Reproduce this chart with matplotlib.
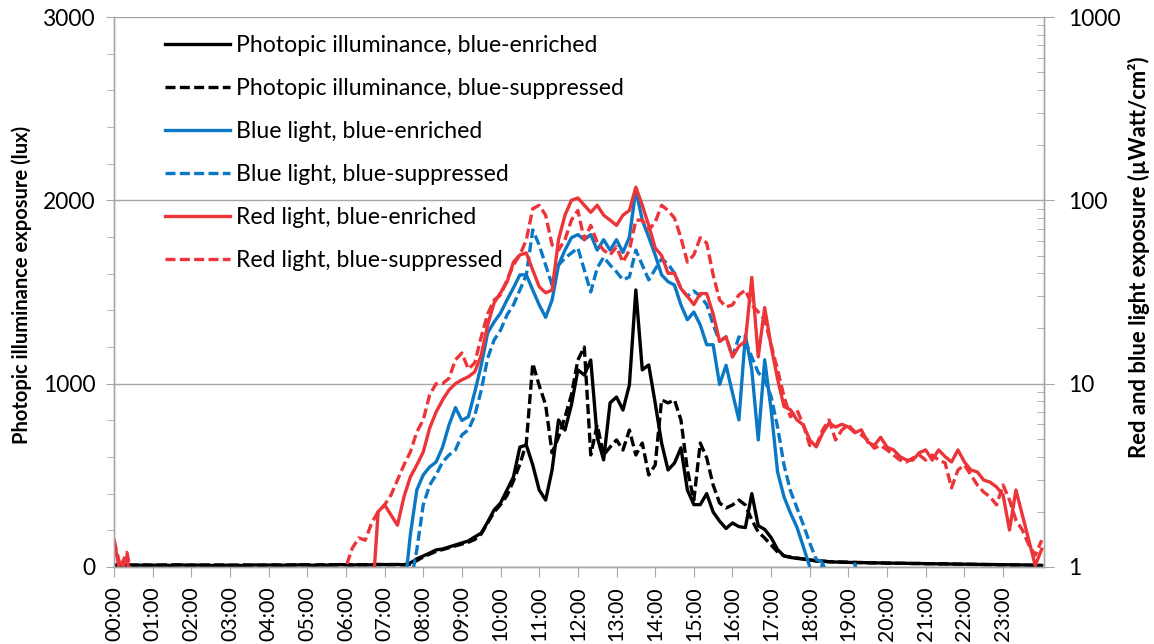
import matplotlib
matplotlib.use("Agg")
import matplotlib.pyplot as plt
import numpy as np
from matplotlib.ticker import MultipleLocator, FixedLocator, FuncFormatter, LogLocator, NullFormatter

plt.rcParams['font.family'] = ['Lato', 'DejaVu Sans']

# time of day in hours, 10-minute steps (0:00 ... 24:00)
hours = np.arange(145) / 6.0
hour_labels = ['%02d:00' % h for h in range(24)]

# photopic illuminance (lux), left axis
photopic_enriched = [
    12, 10, 9, 11, 10, 8,
    9, 11, 10, 8, 12, 10,
    9, 10, 11, 8, 10, 9,
    10, 9, 8, 10, 11, 9,
    10, 12, 9, 11, 10, 12,
    11, 9, 12, 10, 11, 13,
    12, 10, 13, 11, 12, 14,
    13, 12, 14, 11, 22, 44,
    60, 76, 93, 98, 109, 120,
    131, 142, 164, 185, 245, 311,
    349, 420, 491, 654, 665, 556,
    420, 365, 529, 802, 747, 884,
    1075, 1047, 1129, 709, 584, 895,
    927, 856, 993, 1511, 1075, 1102,
    895, 676, 529, 567, 650, 420,
    340, 340, 400, 300, 250, 210,
    240, 220, 215, 400, 225, 205,
    160, 95, 60, 52, 47, 43,
    38, 33, 33, 28, 27, 26,
    25, 24, 24, 23, 22, 22,
    21, 21, 20, 20, 19, 19,
    18, 18, 17, 17, 16, 16,
    15, 15, 14, 14, 13, 13,
    12, 12, 11, 11, 10, 9,
    8]

photopic_suppressed = [
    8, 10, 11, 9, 10, 12,
    10, 9, 11, 12, 10, 9,
    11, 10, 9, 12, 10, 11,
    9, 10, 12, 10, 9, 11,
    10, 9, 11, 10, 12, 11,
    12, 10, 11, 13, 12, 11,
    13, 12, 11, 13, 12, 13,
    12, 14, 12, 13, 15, 35,
    55, 70, 85, 95, 105, 115,
    125, 135, 150, 180, 240, 300,
    340, 390, 470, 560, 676, 1110,
    990, 884, 622, 709, 818, 938,
    1129, 1200, 611, 775, 611, 654,
    693, 638, 747, 611, 676, 502,
    556, 911, 895, 911, 802, 529,
    365, 676, 595, 447, 349, 322,
    338, 365, 338, 256, 191, 158,
    120, 82, 60, 55, 49, 44,
    38, 34, 31, 29, 28, 27,
    26, 25, 24, 23, 23, 22,
    21, 21, 20, 20, 19, 19,
    18, 18, 17, 17, 16, 15,
    15, 14, 14, 13, 13, 12,
    12, 11, 11, 10, 10, 9,
    8]

# blue light (uW/cm2), right log axis
blue_enriched = [0.6] * 42 + [
    0.6, 0.6, 0.6, 0.7, 1.5, 2.63,
    3.18, 3.51, 3.74, 4.5, 5.95, 7.4,
    6.3, 6.6, 9.0, 12.6, 18.9, 21.7,
    24.3, 28.6, 33.3, 39.2, 39.2, 32.4,
    26.9, 23, 28.6, 44.4, 53.5, 62.5,
    65, 61, 65, 53.5, 61, 53.5,
    61, 52, 63, 114, 78, 63,
    50.4, 39.2, 36, 34.5, 26.9, 22.3,
    24.6, 20.9, 16.3, 16.3, 9.9, 12.6,
    8.9, 6.34, 18.4, 11.9, 4.93, 13.5,
    7.2, 3.3, 2.41, 1.97, 1.65, 1.29,
    1.0, 0.8, 1.05, 0.8, 0.6, 0.6] + [0.6] * 31

blue_suppressed = [0.6] * 42 + [
    0.6, 0.6, 0.6, 0.6, 0.8, 1.24,
    2.18, 2.8, 3.18, 3.74, 4.08, 4.35,
    5.25, 5.6, 6.7, 9.2, 13.8, 17.3,
    19.6, 23.7, 26.9, 32.4, 39.2, 69,
    57, 44.4, 34.5, 44.4, 48.4, 51.6,
    55, 41.6, 31.6, 42.7, 49, 44.4,
    40.7, 36.8, 38.2, 53.5, 44.4, 36.8,
    42, 48, 45, 40, 33, 30,
    32, 30, 27, 21, 17, 18,
    14, 18, 17, 14, 11.5, 10.5,
    8.5, 5.8, 3.6, 2.6, 2.1, 1.7,
    1.35, 1.1, 1.06, 0.8, 0.7, 0.7,
    0.8, 1.04, 0.7, 0.6, 0.6, 0.6] + [0.6] * 25

# red light (uW/cm2), right log axis
red_enriched = [1.4, 0.9, 1.15, 0.6, 0.6, 0.6] + [0.6] * 30 + [
    0.6, 0.6, 0.6, 0.6, 0.6, 2.0,
    2.18, 1.92, 1.69, 2.41, 3.10, 3.60,
    4.24, 5.73, 7.0, 8.15, 9.24, 10.0,
    10.5, 10.9, 11.6, 14.3, 20.9, 27.6,
    31.3, 35.8, 46, 50.4, 51.6, 41.6,
    33.8, 31.3, 32.4, 61, 83, 100,
    103, 94, 86, 94, 83, 78,
    73, 83, 88, 118, 94, 73,
    55, 50, 40, 40, 33, 30,
    27, 31, 31, 24, 17, 18,
    14, 16, 17, 38, 14, 26,
    16, 10.6, 7.5, 7.2, 6.34, 5.95,
    4.93, 4.52, 5.38, 6.1, 5.8, 6.0,
    5.8, 5.4, 5.6, 4.8, 4.6, 5.1,
    4.5, 4.35, 4.0, 3.83, 3.83, 4.2,
    4.35, 3.83, 4.35, 4.0, 3.74, 4.35,
    3.74, 3.38, 3.3, 2.98, 2.9, 2.73,
    2.47, 1.59, 2.63, 1.92, 1.40, 1.02,
    1.25]

red_suppressed = [1.4, 1.0, 1.2, 0.8, 0.6, 0.6] + [0.6] * 30 + [
    1.0, 1.27, 1.44, 1.40, 1.74, 2.0,
    2.18, 2.47, 2.98, 3.6, 4.24, 5.45,
    6.34, 8.7, 10.0, 10.0, 10.7, 13.5,
    14.7, 12.0, 13.0, 18, 24, 28.6,
    30.5, 36.8, 44.4, 50.4, 60.8, 90,
    94, 83, 57, 53.5, 61, 78,
    88, 61, 73, 59, 53.5, 50.4,
    55.8, 46, 53.5, 78, 78, 69,
    76, 94, 88, 80, 62.5, 46,
    50.4, 62.5, 58.5, 39.2, 28.6, 26.2,
    26.9, 30.5, 32.4, 26.9, 24.6, 22.3,
    16.3, 11.9, 8.5, 6.6, 7.2, 5.95,
    4.6, 4.6, 5.6, 6.34, 4.93, 5.6,
    5.95, 5.45, 5.25, 4.93, 4.45, 4.6,
    4.35, 4.08, 3.83, 3.74, 3.93, 4.08,
    3.83, 4.08, 3.83, 3.7, 2.7, 3.38,
    3.6, 3.18, 2.8, 2.56, 2.41, 2.18,
    2.8, 2.32, 1.8, 1.59, 1.32, 1.16,
    1.4]

labels = ['Photopic illuminance, blue-enriched',
          'Photopic illuminance, blue-suppressed',
          'Blue light, blue-enriched',
          'Blue light, blue-suppressed',
          'Red light, blue-enriched',
          'Red light, blue-suppressed']

BLACK = '#000000'
BLUE = '#0B78C6'
RED = '#EC3439'
GRAY = '#A6A6A6'
LW = 2.4
DASH = (3, 1.3)

fig = plt.figure(figsize=(11.54, 6.44), dpi=100)
ax = fig.add_axes([0.0988, 0.1196, 0.8059, 0.854])
ax2 = ax.twinx()

l1, = ax.plot(hours, photopic_enriched, color=BLACK, lw=LW)
l2, = ax.plot(hours, photopic_suppressed, color=BLACK, lw=LW, dashes=DASH)
l3, = ax2.plot(hours, blue_enriched, color=BLUE, lw=LW)
l4, = ax2.plot(hours, blue_suppressed, color=BLUE, lw=LW, dashes=DASH)
l5, = ax2.plot(hours, red_enriched, color=RED, lw=LW)
l6, = ax2.plot(hours, red_suppressed, color=RED, lw=LW, dashes=DASH)

ax.set_xlim(0, 24.06)
ax.set_ylim(0, 3000)
ax2.set_yscale('log')
ax2.set_ylim(1, 1000)

ax.xaxis.set_major_locator(FixedLocator(range(24)))
ax.set_xticklabels(hour_labels, rotation=90, fontsize=15.3)
ax.yaxis.set_major_locator(MultipleLocator(1000))
ax.yaxis.set_minor_locator(MultipleLocator(200))
ax.tick_params(axis='y', which='major', labelsize=16.4, length=6, color=GRAY, pad=7.5)
ax.tick_params(axis='y', which='minor', length=5, color=GRAY)
ax.tick_params(axis='x', which='major', length=7, color=GRAY, pad=7)
ax.grid(axis='y', which='major', color=GRAY, lw=1)

ax2.yaxis.set_major_locator(LogLocator(base=10, numticks=10))
ax2.yaxis.set_minor_locator(LogLocator(base=10, subs=np.arange(2, 10), numticks=20))
ax2.yaxis.set_major_formatter(FuncFormatter(lambda v, p: '%g' % v))
ax2.yaxis.set_minor_formatter(NullFormatter())
ax2.tick_params(axis='y', which='major', labelsize=16.4, length=7, color=GRAY, pad=10)
ax2.tick_params(axis='y', which='minor', direction='in', length=5, color=GRAY)

for a in (ax, ax2):
    a.spines['top'].set_visible(False)
    for s in ('left', 'right', 'bottom'):
        a.spines[s].set_color(GRAY)
        a.spines[s].set_linewidth(1)

ax.set_ylabel('Photopic illuminance exposure (lux)', fontsize=14.5, fontweight='bold')
ax.yaxis.set_label_coords(-0.088, 0.513)
ax2.set_ylabel('Red and blue light exposure (µWatt/cm²)', fontsize=15.8,
               fontweight='bold', rotation=90)
ax2.yaxis.set_label_coords(1.090, 0.564)

ax2.legend([l1, l2, l3, l4, l5, l6], labels, loc='upper left',
           bbox_to_anchor=(0.0548, 0.967), frameon=False, borderpad=0,
           borderaxespad=0, handlelength=2.83, handletextpad=0.26,
           labelspacing=0.95, fontsize=16.6)

fig.savefig('out.png', dpi=100)
